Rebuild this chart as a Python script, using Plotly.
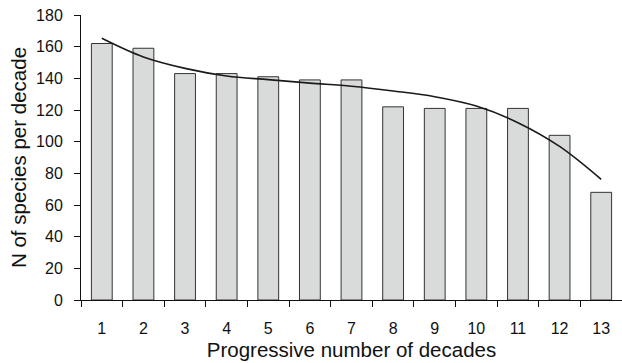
import plotly.graph_objects as go

decades = [str(i) for i in range(1, 14)]
species = [162, 159, 143, 143, 141, 139, 139, 122, 121, 121, 121, 104, 68]
trend = [165.3, 153.5, 146.3, 141.5, 139.2, 137.0, 135.0, 132.0, 128.4, 122.5, 112.0, 97.0, 76.2]
y_ticks = list(range(0, 181, 20))

fig = go.Figure()
fig.add_trace(go.Bar(
    x=decades, y=species,
    marker=dict(color="#d9dbdb", line=dict(color="#333333", width=1)),
    showlegend=False,
))
fig.add_trace(go.Scatter(
    x=decades, y=trend, mode="lines",
    line=dict(color="#1a1a1a", width=1.6, shape="spline", smoothing=1.0),
    showlegend=False,
))

fig.update_layout(
    width=622, height=363,
    margin=dict(l=81, r=0, t=15, b=63),
    plot_bgcolor="white", paper_bgcolor="white",
    bargap=0.5,
    font=dict(family="Liberation Sans, Arial, sans-serif", color="#111111", size=16),
)
fig.update_xaxes(
    type="category",
    showline=True, linecolor="#111111", linewidth=1,
    ticks="outside", ticklen=6, tickcolor="#111111",
    tickson="boundaries",
    showgrid=False,
    ticklabelstandoff=14,
    title=dict(text="Progressive number of decades", font=dict(size=20.5), standoff=6),
    tickfont=dict(size=16),
)
fig.update_yaxes(
    range=[0, 180], tickvals=y_ticks,
    showline=True, linecolor="#111111", linewidth=1,
    ticks="outside", ticklen=6, tickcolor="#111111",
    showgrid=False, zeroline=False,
    ticklabelstandoff=8,
    title=dict(text="N of species per decade", font=dict(size=20.5), standoff=3),
    tickfont=dict(size=16),
)

fig.write_html("out.html")
